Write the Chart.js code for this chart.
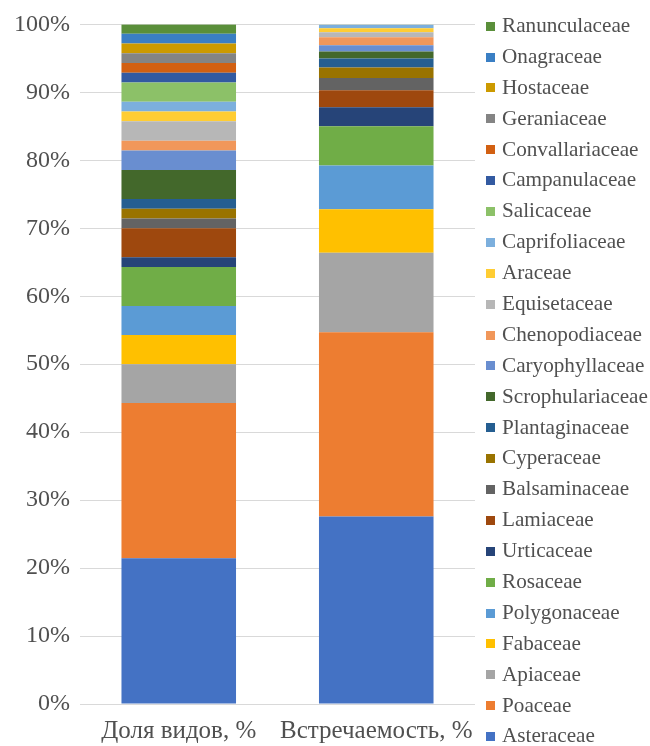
<!DOCTYPE html>
<html>
<head>
<meta charset="utf-8">
<script src="https://cdn.jsdelivr.net/npm/chart.js@4/dist/chart.umd.min.js"></script>
<style>
    html, body { margin: 0; padding: 0; background: #fff; }
    #wrap { position: relative; width: 650px; height: 746px; }
    #legend { position: absolute; left: 486px; top: 10px; margin: 0; padding: 0; list-style: none;
              font: 21.2px "Liberation Serif", "Times New Roman", serif; color: #505050; }
    #legend li { height: 30.9px; line-height: 30.9px; white-space: nowrap; }
    #legend span { display: inline-block; width: 9px; height: 9px; margin-right: 7px; vertical-align: middle; position: relative; top: -1px; }
</style>
</head>
<body>
<div id="wrap">
    <canvas id="familyChart" width="650" height="746"></canvas>
    <ul id="legend"></ul>
</div>
<script>
const categories = ['Доля видов, %', 'Встречаемость, %'];

// bottom to top of the stack
const families = ['Asteraceae', 'Poaceae', 'Apiaceae', 'Fabaceae', 'Polygonaceae', 'Rosaceae',
    'Urticaceae', 'Lamiaceae', 'Balsaminaceae', 'Cyperaceae', 'Plantaginaceae', 'Scrophulariaceae',
    'Caryophyllaceae', 'Chenopodiaceae', 'Equisetaceae', 'Araceae', 'Caprifoliaceae', 'Salicaceae',
    'Campanulaceae', 'Convallariaceae', 'Geraniaceae', 'Hostaceae', 'Onagraceae', 'Ranunculaceae'];

const speciesShare = [21.43, 22.86, 5.71, 4.29, 4.29, 5.71,
    1.43, 4.29, 1.43, 1.43, 1.43, 4.29,
    2.86, 1.43, 2.86, 1.43, 1.43, 2.86,
    1.43, 1.43, 1.43, 1.43, 1.43, 1.43];

const occurrence = [27.6, 27.1, 11.7, 6.4, 6.45, 5.75,
    2.8, 2.5, 1.8, 1.55, 1.35, 1.0,
    0.95, 1.15, 0.75, 0.6, 0.5, 0.05,
    0, 0, 0, 0, 0, 0];

const colors = ['#4472C4', '#ED7D31', '#A5A5A5', '#FFC000', '#5B9BD5', '#70AD47',
    '#264478', '#9E480E', '#636363', '#997300', '#255E91', '#43682B',
    '#698ED0', '#F1975A', '#B7B7B7', '#FFCD33', '#7CAFDD', '#8CC168',
    '#335AA1', '#D26012', '#848484', '#CC9A00', '#3A7FC4', '#5A8F3A'];

const yTicks = [0, 10, 20, 30, 40, 50, 60, 70, 80, 90, 100];

const textColor = '#505050';
const serif = '"Liberation Serif", "Times New Roman", serif';

const datasets = families.map((name, i) => ({
    label: name,
    data: [speciesShare[i], occurrence[i]],
    backgroundColor: colors[i],
    borderWidth: 0,
    categoryPercentage: 1,
    barPercentage: 0.58
}));

const ctx = document.getElementById('familyChart').getContext('2d');
const familyChart = new Chart(ctx, {
    type: 'bar',
    data: { labels: categories, datasets: datasets },
    options: {
        responsive: false,
        animation: false,
        layout: { padding: { top: 21, right: 175, bottom: 0, left: 0 } },
        plugins: {
            legend: { display: false },
            tooltip: { enabled: false }
        },
        scales: {
            x: {
                stacked: true,
                grid: { display: false, drawTicks: false },
                border: { display: false },
                afterFit: axis => { axis.height = 42; },
                ticks: {
                    color: textColor,
                    padding: 12,
                    maxRotation: 0,
                    minRotation: 0,
                    autoSkip: false,
                    font: { family: serif, size: 25 }
                }
            },
            y: {
                stacked: true,
                min: 0,
                max: 100,
                afterBuildTicks: axis => { axis.ticks = yTicks.map(v => ({ value: v })); },
                afterFit: axis => { axis.width = 80; },
                grid: { color: '#d9d9d9', lineWidth: 1, drawTicks: false },
                border: { display: false },
                ticks: {
                    color: textColor,
                    padding: 10,
                    font: { family: serif, size: 24 },
                    callback: v => v + '%'
                }
            }
        }
    }
});

// legend, top entry = top of the stack
const legendList = document.getElementById('legend');
families.slice().reverse().forEach((name, k) => {
    const i = families.length - 1 - k;
    const li = document.createElement('li');
    const box = document.createElement('span');
    box.style.background = colors[i];
    li.appendChild(box);
    li.appendChild(document.createTextNode(name));
    legendList.appendChild(li);
});
</script>
</body>
</html>
